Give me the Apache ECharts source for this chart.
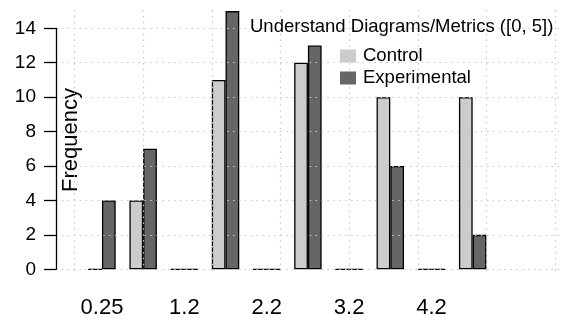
<!DOCTYPE html>
<html>
<head>
<meta charset="utf-8">
<script src="https://cdn.jsdelivr.net/npm/echarts@6/dist/echarts.min.js"></script>
<style>
html,body{margin:0;padding:0;background:#fff;}
#c{width:561px;height:320px;}
</style>
</head>
<body>
<div id="c"></div>
<script>
// ---- data ----
var categories = ["0.25", "", "1.2", "", "2.2", "", "3.2", "", "4.2", ""];
var control = [0, 4, 0, 11, 0, 12, 0, 10, 0, 10];
var experimental = [4, 7, 0, 15, 0, 13, 0, 6, 0, 2];
var yTicks = [0, 2, 4, 6, 8, 10, 12, 14];
var seriesNames = ["Control", "Experimental"];
var titleText = "Understand Diagrams/Metrics ([0, 5])";
var yLabel = "Frequency";

// ---- layout ----
var FONT = "'Liberation Sans', Arial, sans-serif";
var y0 = 269.3, pxPerY = 17.214;
var x0 = 74.5, pxPerX = 13.73;
var H = 320, W = 561;

var dotted = { color: '#c8c8c8', width: 1.2, type: [1.5, 4.4] };

var chart = echarts.init(document.getElementById('c'), null, { renderer: 'canvas' });
chart.setOption({
  animation: false,
  backgroundColor: '#ffffff',
  grid: [
    { left: 56, right: 0, top: y0 - 14 * pxPerY, bottom: H - y0 },
    { left: x0 + 0.5 * pxPerX, width: 30 * pxPerX, top: y0 - 15 * pxPerY, bottom: H - y0 },
    { left: x0, width: 35 * pxPerX, top: 10, bottom: H - 272.7 }
  ],
  xAxis: [
    { gridIndex: 0, type: 'value', show: false },
    { gridIndex: 1, type: 'category', data: categories,
      axisLine: { show: false }, axisTick: { show: false }, splitLine: { show: false },
      axisLabel: { interval: 0, margin: 28, fontSize: 22, fontFamily: FONT, color: '#000' } },
    { gridIndex: 2, type: 'value', min: 0, max: 35, interval: 5,
      axisLine: { show: false }, axisTick: { show: false }, axisLabel: { show: false },
      splitLine: { show: true, lineStyle: dotted } }
  ],
  yAxis: [
    { gridIndex: 0, type: 'value', min: 0, max: 14, interval: 2,
      axisLine: { show: true, lineStyle: { color: '#000', width: 1.3 } },
      axisTick: { show: true, length: 12, lineStyle: { color: '#000', width: 1.3 } },
      axisLabel: { margin: 20, fontSize: 19, fontFamily: FONT, color: '#000',
        formatter: function (v) { return yTicks.indexOf(v) >= 0 ? String(v) : ''; } },
      splitLine: { show: true, lineStyle: dotted } },
    { gridIndex: 1, type: 'value', min: 0, max: 15, show: false, splitLine: { show: false } },
    { gridIndex: 2, type: 'value', min: 0, max: 1, show: false, splitLine: { show: false } }
  ],
  title: {
    text: titleText, left: 250, top: 17, padding: 0,
    textStyle: { fontSize: 18.5, fontWeight: 'normal', fontFamily: FONT, color: '#000', lineHeight: 20 }
  },
  legend: {
    data: seriesNames, orient: 'vertical', left: 340, top: 45, padding: 0,
    itemWidth: 16, itemHeight: 13, itemGap: 0, icon: 'rect',
    itemStyle: { borderWidth: 0 },
    textStyle: { fontSize: 18.5, fontFamily: FONT, color: '#000', lineHeight: 22, padding: [0, 0, 0, 2] }
  },
  graphic: [{
    type: 'text', x: 71, y: 140, rotation: Math.PI / 2,
    style: { text: yLabel, fontSize: 22, fontFamily: FONT, fill: '#000', textAlign: 'center', textVerticalAlign: 'middle' }
  }],
  series: [
    { name: seriesNames[0], type: 'bar', xAxisIndex: 1, yAxisIndex: 1, data: control,
      barGap: '0%', barCategoryGap: '33.333%', z: -1,
      itemStyle: { color: '#cccccc', borderColor: '#000', borderWidth: 1.3 } },
    { name: seriesNames[1], type: 'bar', xAxisIndex: 1, yAxisIndex: 1, data: experimental,
      barGap: '0%', barCategoryGap: '33.333%', z: -1,
      itemStyle: { color: '#666666', borderColor: '#000', borderWidth: 1.3 } }
  ]
});
</script>
</body>
</html>
